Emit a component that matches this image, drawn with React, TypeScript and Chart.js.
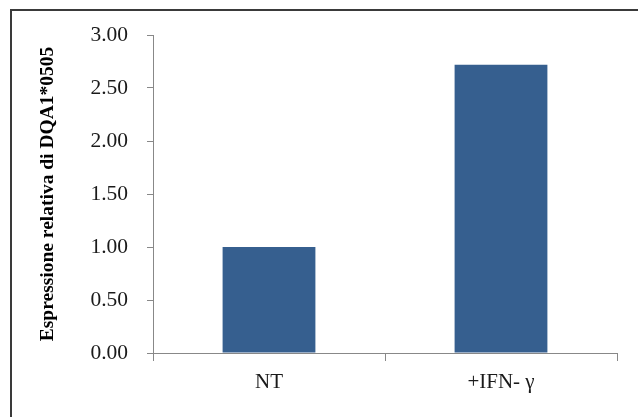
import React, { useEffect, useRef } from "react";
import { Chart, registerables } from "chart.js";

Chart.register(...registerables);

const categories = ["NT", "+IFN- \u03b3"];
const values = [1.0, 2.72];
const yTitle = "Espressione relativa di DQA1*0505";
const yMin = 0;
const yMax = 3;
const yStep = 0.5;

const FONT = '"Liberation Serif", "Times New Roman", serif';

export default function App() {
  const ref = useRef<HTMLCanvasElement | null>(null);

  useEffect(() => {
    if (!ref.current) return;
    const chart = new Chart(ref.current, {
      type: "bar",
      data: {
        labels: categories,
        datasets: [
          {
            data: values,
            backgroundColor: "#365f8f",
            borderWidth: 0,
            categoryPercentage: 1,
            barPercentage: 0.4,
          },
        ],
      },
      options: {
        responsive: false,
        animation: false,
        layout: { padding: { left: 0, top: 35, right: 21, bottom: 0 } },
        plugins: { legend: { display: false }, tooltip: { enabled: false } },
        scales: {
          x: {
            afterFit: (s: any) => {
              s.height = 64;
            },
            grid: {
              offset: true,
              drawOnChartArea: false,
              drawTicks: true,
              tickLength: 8,
              color: "#888888",
            },
            border: { display: true, color: "#888888", width: 1 },
            ticks: {
              color: "#1a1a1a",
              padding: 9,
              font: { family: FONT, size: 21 },
              maxRotation: 0,
            },
          },
          y: {
            min: yMin,
            max: yMax,
            afterFit: (s: any) => {
              s.width = 153;
            },
            grid: {
              drawOnChartArea: false,
              drawTicks: true,
              tickLength: 6,
              color: "#888888",
            },
            border: { display: true, color: "#888888", width: 1 },
            ticks: {
              stepSize: yStep,
              color: "#1a1a1a",
              padding: 19,
              font: { family: FONT, size: 21.5 },
              callback: (v: any) => Number(v).toFixed(2),
            },
            title: {
              display: true,
              text: yTitle,
              color: "#000000",
              padding: { top: 36, bottom: 0 },
              font: { family: FONT, size: 19.5, weight: "bold" },
            },
          },
        },
      },
    });
    return () => chart.destroy();
  }, []);

  return (
    <div
      style={{
        position: "absolute",
        left: 0,
        top: 0,
        width: 638,
        height: 417,
        overflow: "hidden",
        background: "#ffffff",
      }}
    >
      <div
        style={{
          position: "absolute",
          left: 10,
          top: 9,
          width: 700,
          height: 500,
          border: "2px solid #3a3a3a",
        }}
      />
      <canvas
        ref={ref}
        width={638}
        height={417}
        style={{ position: "absolute", left: 0, top: 0, width: 638, height: 417 }}
      />
    </div>
  );
}
